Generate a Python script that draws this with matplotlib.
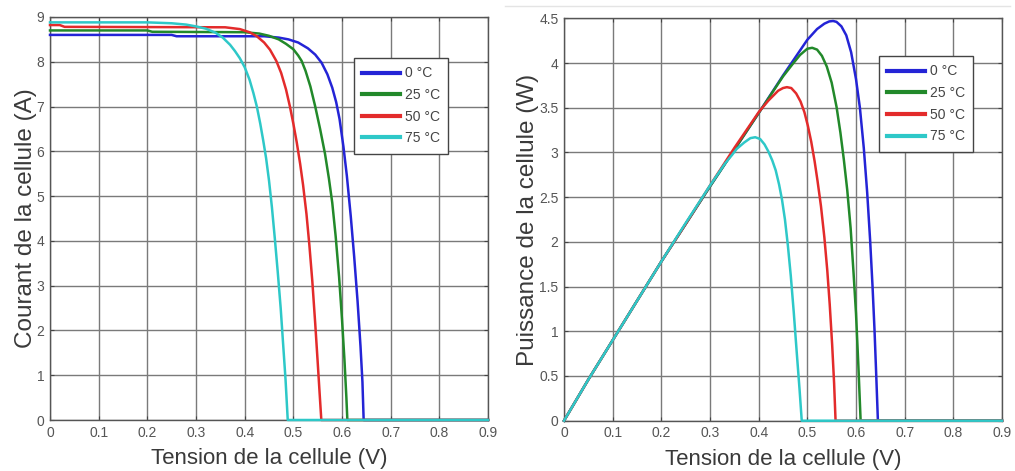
import matplotlib
matplotlib.use("Agg")
import matplotlib.pyplot as plt
from matplotlib.lines import Line2D
from matplotlib.ticker import FuncFormatter

plt.rcParams['font.family'] = ['Liberation Sans', 'DejaVu Sans']

labels = ["0 °C", "25 °C", "50 °C", "75 °C"]
colors = ["#2424d6", "#22892a", "#e32b2b", "#2ec8c8"]

# --- I-V characteristics (voltage in V, current in A) ---
v_iv_0 = [0, 0.25, 0.26, 0.44, 0.47, 0.49, 0.51, 0.53, 0.545, 0.558, 0.57, 0.58,
          0.588, 0.595, 0.603, 0.61, 0.618, 0.625, 0.632, 0.638, 0.642, 0.6445, 0.9]
i_iv_0 = [8.60, 8.60, 8.57, 8.57, 8.54, 8.50, 8.43, 8.30, 8.16, 7.98, 7.72, 7.42,
          7.10, 6.72, 6.10, 5.45, 4.55, 3.65, 2.65, 1.65, 0.85, 0.0, 0.0]

v_iv_25 = [0, 0.2, 0.21, 0.40, 0.43, 0.45, 0.47, 0.485, 0.50, 0.51, 0.517, 0.525,
           0.535, 0.545, 0.555, 0.565, 0.573, 0.58, 0.587, 0.594, 0.60, 0.605,
           0.609, 0.611, 0.9]
i_iv_25 = [8.70, 8.70, 8.67, 8.66, 8.63, 8.58, 8.50, 8.40, 8.28, 8.14, 8.02, 7.80,
           7.45, 7.0, 6.5, 5.95, 5.40, 4.85, 4.10, 3.20, 2.25, 1.35,
           0.5, 0.0, 0.0]

v_iv_50 = [0, 0.02, 0.03, 0.36, 0.39, 0.41, 0.425, 0.44, 0.452, 0.465, 0.475, 0.485,
           0.493, 0.50, 0.507, 0.514, 0.52, 0.527, 0.533, 0.539, 0.545, 0.55,
           0.554, 0.5575, 0.9]
i_iv_50 = [8.82, 8.82, 8.78, 8.77, 8.73, 8.66, 8.57, 8.43, 8.27, 8.02, 7.75, 7.38,
           7.0, 6.62, 6.20, 5.72, 5.25, 4.60, 3.90, 3.10, 2.15, 1.30,
           0.60, 0.0, 0.0]

v_iv_75 = [0, 0.20, 0.25, 0.28, 0.30, 0.32, 0.34, 0.355, 0.37, 0.38, 0.39, 0.40,
           0.41, 0.418, 0.425, 0.432, 0.438, 0.444, 0.45, 0.456, 0.462, 0.468,
           0.474, 0.479, 0.484, 0.4885, 0.9]
i_iv_75 = [8.88, 8.88, 8.86, 8.83, 8.79, 8.74, 8.65, 8.54, 8.38, 8.24, 8.08, 7.88,
           7.60, 7.30, 7.0, 6.62, 6.25, 5.85, 5.35, 4.75, 4.05, 3.30,
           2.50, 1.70, 0.90, 0.0, 0.0]

# --- P-V characteristics (voltage in V, power in W) ---
v_pv_0 = [0, 0.05, 0.10, 0.15, 0.20, 0.25, 0.30, 0.35, 0.40, 0.45, 0.50, 0.52,
          0.535, 0.545, 0.553, 0.56, 0.57, 0.58, 0.59, 0.60, 0.608, 0.616,
          0.623, 0.629, 0.634, 0.638, 0.6415, 0.645, 0.9]
p_pv_0 = [0, 0.46, 0.90, 1.34, 1.78, 2.20, 2.62, 3.03, 3.44, 3.86, 4.26, 4.38,
          4.44, 4.465, 4.47, 4.46, 4.41, 4.31, 4.12, 3.82, 3.50, 3.05,
          2.55, 2.02, 1.50, 1.02, 0.52, 0.0, 0.0]

v_pv_25 = [0, 0.05, 0.10, 0.15, 0.20, 0.25, 0.30, 0.35, 0.40, 0.45, 0.47, 0.485,
           0.50, 0.51, 0.52, 0.53, 0.54, 0.55, 0.56, 0.568, 0.575, 0.582,
           0.589, 0.595, 0.60, 0.605, 0.6095, 0.9]
p_pv_25 = [0, 0.46, 0.90, 1.34, 1.78, 2.20, 2.62, 3.03, 3.44, 3.85, 3.99, 4.09,
           4.16, 4.17, 4.15, 4.08, 3.96, 3.78, 3.51, 3.22, 2.92, 2.58,
           2.15, 1.65, 1.20, 0.60, 0.0, 0.0]

v_pv_50 = [0, 0.05, 0.10, 0.15, 0.20, 0.25, 0.30, 0.35, 0.40, 0.42, 0.44, 0.45,
           0.458, 0.467, 0.477, 0.486, 0.494, 0.501, 0.508, 0.515, 0.521, 0.528,
           0.535, 0.541, 0.546, 0.551, 0.555, 0.558, 0.9]
p_pv_50 = [0, 0.46, 0.90, 1.34, 1.78, 2.20, 2.63, 3.05, 3.45, 3.58, 3.69, 3.72,
           3.73, 3.72, 3.66, 3.57, 3.45, 3.30, 3.12, 2.90, 2.68, 2.40,
           2.05, 1.68, 1.30, 0.85, 0.42, 0.0, 0.0]

v_pv_75 = [0, 0.05, 0.10, 0.15, 0.20, 0.25, 0.30, 0.33, 0.345, 0.355, 0.37, 0.383,
           0.393, 0.403, 0.412, 0.42, 0.428, 0.435, 0.442, 0.448, 0.454, 0.46,
           0.466, 0.472, 0.478, 0.484, 0.4885, 0.9]
p_pv_75 = [0, 0.46, 0.90, 1.34, 1.78, 2.21, 2.63, 2.87, 2.97, 3.04, 3.11, 3.16,
           3.17, 3.15, 3.09, 3.01, 2.91, 2.80, 2.64, 2.47, 2.25, 1.96,
           1.62, 1.22, 0.78, 0.35, 0.0, 0.0]

iv_curves = [(v_iv_0, i_iv_0), (v_iv_25, i_iv_25), (v_iv_50, i_iv_50), (v_iv_75, i_iv_75)]
pv_curves = [(v_pv_0, p_pv_0), (v_pv_25, p_pv_25), (v_pv_50, p_pv_50), (v_pv_75, p_pv_75)]

x_ticks = [0, 0.1, 0.2, 0.3, 0.4, 0.5, 0.6, 0.7, 0.8, 0.9]
iv_ticks = [0, 1, 2, 3, 4, 5, 6, 7, 8, 9]
pv_ticks = [0, 0.5, 1, 1.5, 2, 2.5, 3, 3.5, 4, 4.5]

fig = plt.figure(figsize=(10.15, 4.71), dpi=100)
fig.patch.set_facecolor("white")

ax1 = fig.add_axes([50 / 1015, 51 / 471, 438 / 1015, 403 / 471])
ax2 = fig.add_axes([564 / 1015, 50.3 / 471, 438 / 1015, 402.4 / 471])

# faint separator line above the right panel
fig.add_artist(Line2D([505 / 1015, 1010 / 1015], [1 - 6 / 471, 1 - 6 / 471],
                      color="#e4e4e4", linewidth=1.0))

label_color = "#3a3a3a"
tick_color = "#555555"
fmt = FuncFormatter(lambda v, pos: f"{v:g}")


def style(ax, yticks, ylabel):
    ax.set_xlim(0, 0.9)
    ax.set_ylim(yticks[0], yticks[-1])
    ax.set_xticks(x_ticks)
    ax.set_yticks(yticks)
    ax.xaxis.set_major_formatter(fmt)
    ax.yaxis.set_major_formatter(fmt)
    ax.grid(True, color="#7a7a7a", linewidth=1.0, linestyle="-")
    ax.set_axisbelow(True)
    for sp in ax.spines.values():
        sp.set_color("#555555")
        sp.set_linewidth(1.0)
    ax.tick_params(direction="in", length=3, width=0.8, top=True, right=True,
                   colors="#444444", labelcolor=tick_color, labelsize=10, pad=4)
    ax.set_xlabel("Tension de la cellule (V)", fontsize=16, color=label_color, labelpad=6)
    ax.set_ylabel(ylabel, fontsize=17.5, color=label_color, labelpad=0)


for (v, y), c, lab in zip(iv_curves, colors, labels):
    ax1.plot(v, y, color=c, linewidth=1.8, label=lab, clip_on=False, zorder=3)
for (v, y), c, lab in zip(pv_curves, colors, labels):
    ax2.plot(v, y, color=c, linewidth=1.8, label=lab, clip_on=False, zorder=3)

style(ax1, iv_ticks, "Courant de la cellule (A)")
style(ax2, pv_ticks, "Puissance de la cellule (W)")

for ax, anchor in ((ax1, (0.909, 0.898)), (ax2, (0.934, 0.906))):
    leg = ax.legend(loc="upper right", bbox_to_anchor=anchor, fontsize=10,
                    frameon=True, fancybox=False, framealpha=1, edgecolor="#444444",
                    handlelength=2.7, handletextpad=0.35, labelspacing=0.55,
                    borderpad=0.6, borderaxespad=0)
    leg.get_frame().set_linewidth(1.0)
    for line in leg.get_lines():
        line.set_linewidth(3.0)
    for t in leg.get_texts():
        t.set_color("#444444")

fig.savefig("out.png", dpi=100, facecolor="white")
